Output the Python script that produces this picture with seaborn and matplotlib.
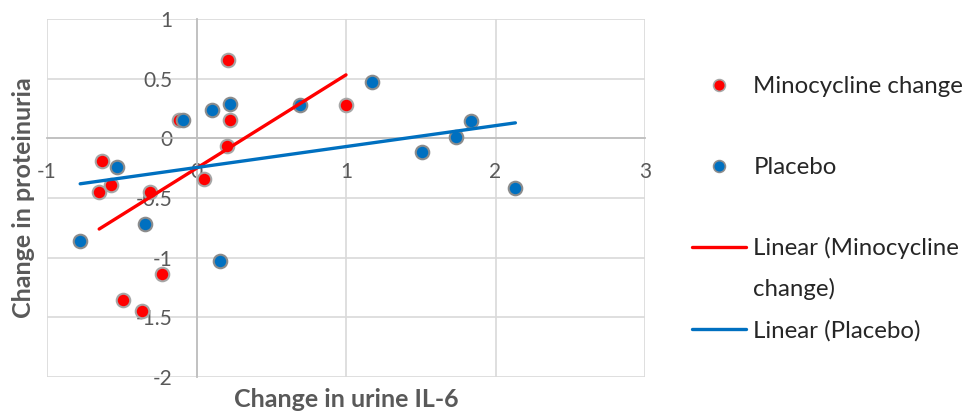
import numpy as np
import pandas as pd
import matplotlib.pyplot as plt
from matplotlib.lines import Line2D
import seaborn as sns

# values
mino_x = [0.21, 0.227, 0.204, 1.0, -0.116, -0.633, -0.651, -0.573, 0.051, -0.311, -0.233, -0.493, -0.367]
mino_y = [0.657, 0.154, -0.062, 0.277, 0.154, -0.188, -0.448, -0.394, -0.341, -0.448, -1.138, -1.351, -1.449]
plac_x = [-0.093, 0.102, 0.222, 0.695, -0.533, -0.778, -0.344, 0.155, 1.173, 1.511, 1.737, 1.833, 2.133]
plac_y = [0.154, 0.237, 0.285, 0.277, -0.243, -0.862, -0.722, -1.027, 0.47, -0.112, 0.008, 0.145, -0.417]
x_ticks = [-1, 0, 1, 2, 3]
y_ticks = [-2, -1.5, -1, -0.5, 0, 0.5, 1]

red = "#ff0000"
blue = "#0070c0"
grey_txt = "#595959"

sns.set_style("white")
plt.rcParams['font.family'] = ['Lato', 'DejaVu Sans']

fig, ax = plt.subplots(figsize=(9.8, 4.19), dpi=100)
fig.subplots_adjust(left=47/980, right=645/980, top=1-19/419, bottom=1-377/419)

sns.scatterplot(x=mino_x, y=mino_y, color=red, s=95, edgecolor="#a6a6a6", linewidth=1.5, ax=ax, zorder=3)
sns.scatterplot(x=plac_x, y=plac_y, color=blue, s=95, edgecolor="#8c8c8c", linewidth=1.5, ax=ax, zorder=3)

# linear trendlines
sns.regplot(x=mino_x, y=mino_y, scatter=False, ci=None, truncate=True, ax=ax,
            line_kws=dict(color=red, lw=2.4, zorder=4, solid_capstyle="round"))
sns.regplot(x=plac_x, y=plac_y, scatter=False, ci=None, truncate=True, ax=ax,
            line_kws=dict(color=blue, lw=2.4, zorder=4, solid_capstyle="round"))

ax.set_xlim(-1, 3)
ax.set_ylim(-2, 1)
ax.set_xticks(x_ticks)
ax.set_yticks(y_ticks)
ax.set_xticklabels([f"{t:g}" for t in x_ticks])
ax.set_yticklabels([f"{t:g}" for t in y_ticks])
ax.grid(True, color="#d9d9d9", lw=1.2)
ax.set_axisbelow(True)

for s in ["top", "right"]:
    ax.spines[s].set_visible(False)
for s in ["bottom", "left"]:
    ax.spines[s].set_position(("data", 0))
    ax.spines[s].set_color("#bfbfbf")
    ax.spines[s].set_linewidth(1.3)
    ax.spines[s].set_zorder(1)

ax.tick_params(axis="x", length=0, pad=17, labelsize=15, labelcolor=grey_txt)
ax.tick_params(axis="y", length=0, pad=17, labelsize=15, labelcolor=grey_txt)

ax.set_xlabel("Change in urine IL-6", fontsize=18, fontweight="bold", color=grey_txt)
ax.set_ylabel("Change in proteinuria", fontsize=18, fontweight="bold", color=grey_txt)
ax.xaxis.set_label_coords(0.5, -0.032)
ax.yaxis.set_label_coords(-0.02, 0.5)

# legend: markers then trendlines
pt_handles = [
    Line2D([], [], ls="none", marker="o", ms=8.5, mfc=red, mec="#a6a6a6", mew=1.2),
    Line2D([], [], ls="none", marker="o", ms=8.5, mfc=blue, mec="#8c8c8c", mew=1.2),
]
leg1 = fig.legend(pt_handles, ["Minocycline change", "Placebo"], loc="upper left",
                  bbox_to_anchor=(692/980, 1-76/419), frameon=False, fontsize=17.3,
                  borderpad=0, borderaxespad=0, handlelength=2.25, handletextpad=0.3,
                  labelspacing=2.5)
# the wrapped label keeps its line next to the first text row, like Excel does
ln_handles = [
    Line2D([], [], color=red, lw=2.4),
    Line2D([], [], color="none", lw=2.4),
    Line2D([], [], color=blue, lw=2.4),
]
leg2 = fig.legend(ln_handles, ["Linear (Minocycline", "change)", "Linear (Placebo)"], loc="upper left",
                  bbox_to_anchor=(692/980, 1-237/419), frameon=False, fontsize=17.3,
                  borderpad=0, borderaxespad=0, handlelength=2.25, handletextpad=0.3,
                  labelspacing=0.8)

fig.savefig("out.png", dpi=100)
